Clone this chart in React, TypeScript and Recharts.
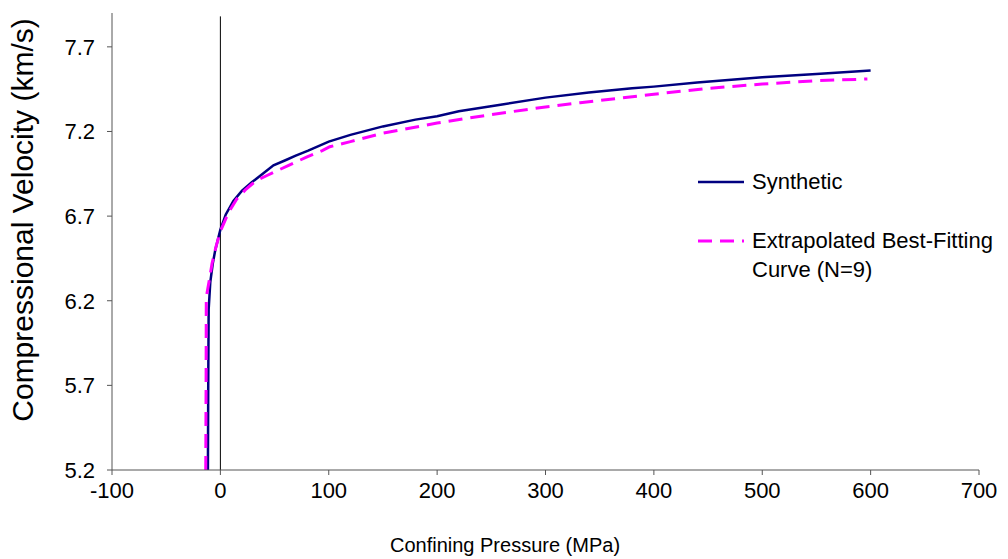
import { LineChart, Line, XAxis, YAxis, ReferenceLine } from 'recharts';

// Synthetic velocity vs confining pressure
const synthP = [-11.5, -11.2, -10.8, -9.3, -7, -4.7, 0, 5, 12, 20, 29, 40, 49, 60, 69, 81, 100, 120, 150, 180, 200, 220, 260, 300, 340, 380, 400, 440, 500, 550, 600];
const synthV = [5.2, 5.7, 6.15, 6.31, 6.42, 6.5, 6.62, 6.71, 6.79, 6.85, 6.9, 6.955, 7.0, 7.03, 7.056, 7.087, 7.14, 7.18, 7.23, 7.27, 7.29, 7.32, 7.36, 7.4, 7.43, 7.455, 7.465, 7.49, 7.52, 7.54, 7.56];

// Extrapolated best-fitting curve (N=9)
const fitP = [-13.5, -13.2, -13, -10, -7.7, -4, 0, 7.4, 15, 23, 33, 43, 63, 80, 94, 101, 120, 150, 200, 250, 300, 332, 400, 450, 500, 550, 597];
const fitV = [5.2, 5.7, 6.22, 6.33, 6.42, 6.52, 6.61, 6.72, 6.8, 6.855, 6.91, 6.94, 7.0, 7.05, 7.087, 7.11, 7.14, 7.19, 7.25, 7.3, 7.345, 7.37, 7.42, 7.455, 7.48, 7.5, 7.51];

const xTicks = [-100, 0, 100, 200, 300, 400, 500, 600, 700];
const yTicks = [5.2, 5.7, 6.2, 6.7, 7.2, 7.7];

const synthetic = synthP.map((p, i) => ({ p, v: synthV[i] }));
const fitted = fitP.map((p, i) => ({ p, v: fitV[i] }));

const FONT = '"Liberation Sans", Arial, sans-serif';

// legend sits inside the plot area, right side
function ChartLegend() {
  return (
    <div style={{ position: 'absolute', left: 698, top: 167, fontFamily: FONT, fontSize: 22, color: '#000', lineHeight: '29px' }}>
      <div style={{ display: 'flex', alignItems: 'center', height: 29 }}>
        <svg width={54} height={10}>
          <line x1={0} y1={5} x2={46} y2={5} stroke="#000080" strokeWidth={2.5} />
        </svg>
        <span>Synthetic</span>
      </div>
      <div style={{ display: 'flex', alignItems: 'flex-start', marginTop: 30 }}>
        <svg width={54} height={29}>
          <line x1={0} y1={15} x2={46} y2={15} stroke="#FF00FF" strokeWidth={3} strokeDasharray="14 8" />
        </svg>
        <span>
          Extrapolated Best-Fitting
          <br />
          Curve (N=9)
        </span>
      </div>
    </div>
  );
}

export default function App() {
  return (
    <div style={{ position: 'absolute', left: 0, top: 0, width: 1008, height: 559, background: '#fff', fontFamily: FONT }}>
      <LineChart width={1008} height={559} margin={{ top: 13, right: 29, left: 0, bottom: 0 }}>
        <XAxis
          dataKey="p"
          type="number"
          domain={[-100, 700]}
          ticks={xTicks}
          allowDataOverflow
          height={89}
          tickSize={5}
          tickMargin={7}
          stroke="#555"
          tick={{ fill: '#000', fontSize: 22, fontFamily: FONT }}
          label={{
            content: () => (
              <text x={505} y={552} textAnchor="middle" fill="#000" fontSize={20} fontFamily={FONT}>
                Confining Pressure (MPa)
              </text>
            ),
          }}
        />
        <YAxis
          dataKey="v"
          type="number"
          domain={[5.2, 7.9]}
          ticks={yTicks}
          allowDataOverflow
          width={112}
          tickSize={5}
          tickMargin={12}
          stroke="#555"
          tick={{ fill: '#000', fontSize: 22, fontFamily: FONT }}
          label={{
            content: () => (
              <text x={22} y={220} transform="rotate(-90 22 220)" textAnchor="middle" dominantBaseline="central" fill="#000" fontSize={30} fontFamily={FONT}>
                Compressional Velocity (km/s)
              </text>
            ),
          }}
        />
        <ReferenceLine segment={[{ x: 0, y: 5.2 }, { x: 0, y: 7.88 }]} stroke="#000" strokeWidth={1} />
        <Line
          data={synthetic}
          dataKey="v"
          name="Synthetic"
          type="linear"
          stroke="#000080"
          strokeWidth={2.5}
          dot={false}
          isAnimationActive={false}
        />
        <Line
          data={fitted}
          dataKey="v"
          name="Extrapolated Best-Fitting Curve (N=9)"
          type="linear"
          stroke="#FF00FF"
          strokeWidth={3}
          strokeDasharray="14 8"
          dot={false}
          isAnimationActive={false}
        />
      </LineChart>
      <ChartLegend />
    </div>
  );
}
